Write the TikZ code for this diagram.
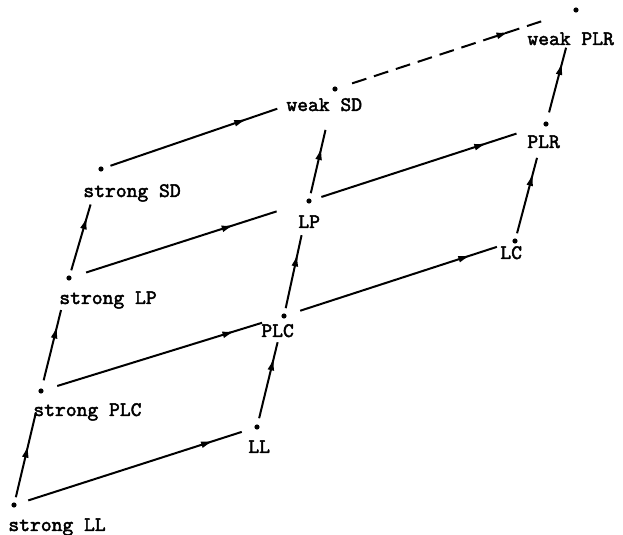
\documentclass[tikz,border=0pt]{standalone}
\usepackage{fontspec}
\newfontfamily\lblfont{Latin Modern Mono}[AutoFakeBold=2.2]
\usetikzlibrary{decorations.markings,arrows.meta,calc}
\newcommand\myedge[6][]{%
  \draw[conn=#6,#1] ($(#2)!#4*0.5pt!(#3)$) -- ($(#3)!#5*0.5pt!(#2)$);}
\begin{document}
\begin{tikzpicture}[x=0.5pt,y=-0.5pt,
  dot/.style={circle,fill,inner sep=0pt,minimum size=2.6pt},
  lbl/.style={anchor=base west,inner sep=0pt,font=\lblfont\bfseries\fontsize{10.3}{12}\selectfont},
  conn/.style={line width=1pt,postaction={decorate},
    decoration={markings,mark=at position #1 with {\arrow{Latex[length=6.5pt,width=3.4pt]}}}},
  dsh/.style={dash pattern=on 7.5pt off 4pt}
]
\useasboundingbox (0,0) rectangle (623,535);
% dots
\node[dot] (sLL)  at (14,505) {};
\node[dot] (sPLC) at (41,391) {};
\node[dot] (sLP)  at (69,278) {};
\node[dot] (sSD)  at (101,169) {};
\node[dot] (LL)   at (257,427) {};
\node[dot] (PLC)  at (284,316) {};
\node[dot] (LP)   at (309,201) {};
\node[dot] (wSD)  at (335,89) {};
\node[dot] (LC)   at (515,241) {};
\node[dot] (PLR)  at (546,124) {};
\node[dot] (wPLR) at (576,10) {};
% labels
\node[lbl] (tsLL)  at (8,531)   {strong LL};
\node[lbl] (tsPLC) at (33,416)  {strong PLC};
\node[lbl] (tsLP)  at (59,304)  {strong LP};
\node[lbl] (tsSD)  at (83,197)  {strong SD};
\node[lbl] (tLL)   at (248,453) {LL};
\node[lbl] (tPLC)  at (261,337) {PLC};
\node[lbl] (tLP)   at (298,228) {LP};
\node[lbl] (twSD)  at (286,111) {weak SD};
\node[lbl] (tLC)   at (500,259) {LC};
\node[lbl] (tPLR)  at (527,148) {PLR};
\node[lbl] (twPLR) at (527,45)  {weak PLR};
% connectors
\myedge{sLL}{LL}{15}{16}{0.87}
\myedge{sLL}{sPLC}{8}{22}{0.62}
\myedge{sPLC}{sLP}{11}{33}{0.78}
\myedge{sLP}{sSD}{8}{37}{0.82}
\myedge{sPLC}{PLC}{17}{23}{0.87}
\myedge{sLP}{LP}{18}{34}{0.78}
\myedge{sSD}{wSD}{10}{61}{0.82}
\myedge{LL}{PLC}{9}{27}{0.80}
\myedge{PLC}{LP}{8}{35}{0.75}
\myedge{LP}{wSD}{8}{42}{0.73}
\myedge{PLC}{LC}{17}{19}{0.87}
\myedge{LP}{PLR}{13}{31}{0.85}
\myedge{LC}{PLR}{8}{35}{0.80}
\myedge{PLR}{wPLR}{12}{39}{0.78}
\myedge[dsh]{wSD}{wPLR}{18}{31}{0.81}
\end{tikzpicture}
\end{document}
